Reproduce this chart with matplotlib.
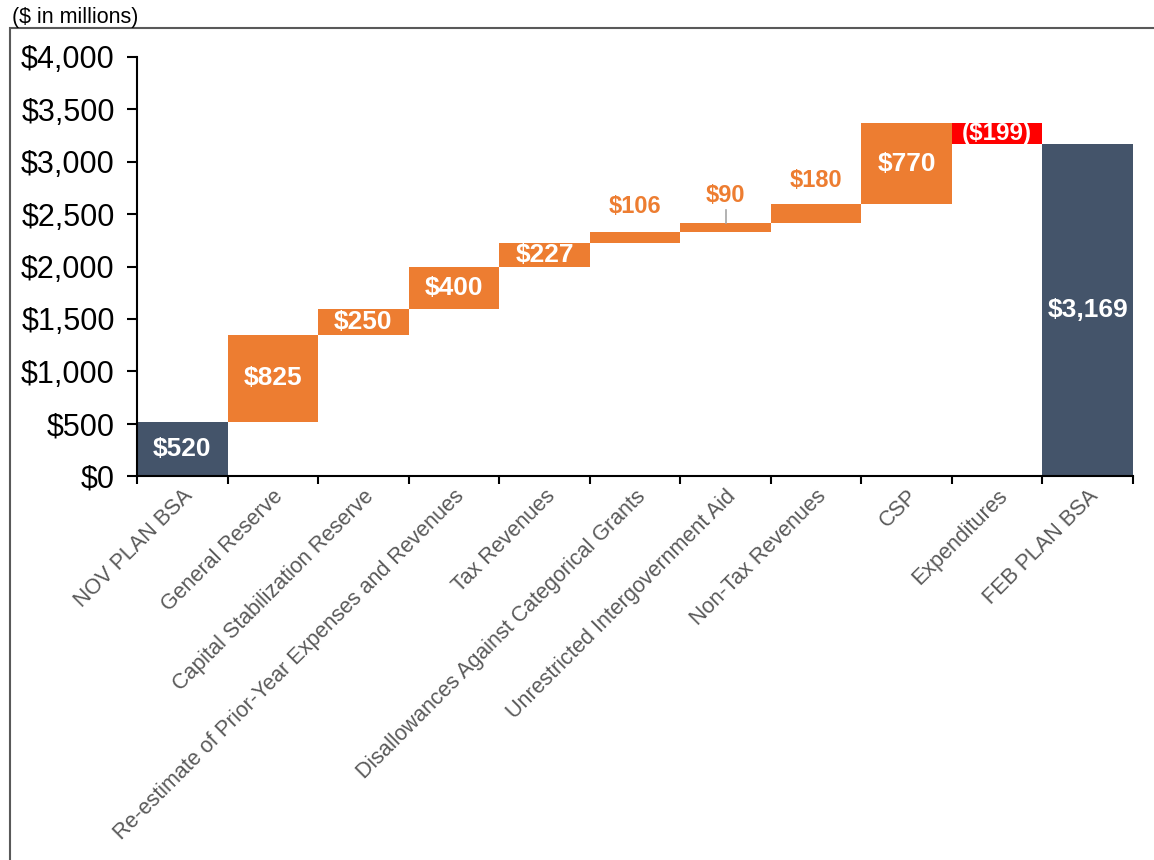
import matplotlib.pyplot as plt
import matplotlib.patches as mpatches

plt.rcParams['font.family'] = ['Liberation Sans', 'DejaVu Sans']

categories = ['NOV PLAN BSA', 'General Reserve', 'Capital Stabilization Reserve',
              'Re-estimate of Prior-Year Expenses and Revenues', 'Tax Revenues',
              'Disallowances Against Categorical Grants',
              'Unrestricted Intergovernment Aid', 'Non-Tax Revenues', 'CSP',
              'Expenditures', 'FEB PLAN BSA']
changes = [520, 825, 250, 400, 227, 106, 90, 180, 770, -199, 3169]
labels = ['$520', '$825', '$250', '$400', '$227', '$106', '$90', '$180',
          '$770', '($199)', '$3,169']
totals = [0, 10]  # indices of the total bars

DARK = '#44546A'
ORANGE = '#ED7D31'
RED = '#FF0000'

fig = plt.figure(figsize=(11.54, 8.6), dpi=100)
ax = fig.add_axes([137 / 1154, 1 - 476 / 860, (1133 - 137) / 1154, (476 - 57) / 860])

# frame around the chart area
fig.patches.append(mpatches.Rectangle((10 / 1154, -0.1), 1.2, 1 - 28 / 860 + 0.1,
                                      transform=fig.transFigure, fill=False,
                                      edgecolor='#595959', linewidth=1.5))
fig.text(12 / 1154, 1 - 17 / 860, '($ in millions)', fontsize=15.5, va='center', ha='left')

running = 0
bottoms, heights, colors = [], [], []
for i, v in enumerate(changes):
    if i in totals:
        bottoms.append(0)
        heights.append(v)
        colors.append(DARK)
        running = v
    else:
        if v >= 0:
            bottoms.append(running)
            colors.append(ORANGE)
        else:
            bottoms.append(running + v)
            colors.append(RED)
        heights.append(abs(v))
        running += v

x = list(range(len(categories)))
ax.bar(x, heights, bottom=bottoms, width=1.0, color=colors, linewidth=0)

outside = {5: 26, 6: 27, 7: 23}  # small steps get their label above the bar (pixels)
px = 4000 / (476 - 57)
for i in x:
    top = bottoms[i] + heights[i]
    if i in outside:
        y_lab = top + outside[i] * px
        ax.text(i, y_lab, labels[i], ha='center', va='center', color=ORANGE,
                fontsize=17, fontweight='bold')
        if i == 6:
            ax.plot([i, i], [top, top + 13 * px], color='#A6A6A6', linewidth=1.2)
    else:
        size = 17.5 if changes[i] < 0 else 19
        ax.text(i, bottoms[i] + heights[i] / 2, labels[i], ha='center', va='center',
                color='white', fontsize=size, fontweight='bold')

ax.set_xlim(-0.5, len(categories) - 0.5)
ax.set_ylim(0, 4000)
ax.set_yticks(range(0, 4001, 500))
ax.set_yticklabels(['${:,}'.format(t) for t in range(0, 4001, 500)], fontsize=22)
ax.tick_params(axis='y', direction='out', length=7, width=1.5, pad=9)

ax.set_xticks(x)
ax.set_xticklabels(categories, rotation=45, ha='right', rotation_mode='anchor',
                   fontsize=15.5, color='#595959')
ax.tick_params(axis='x', which='major', length=0, pad=7)
ax.set_xticks([i - 0.5 for i in range(len(categories) + 1)], minor=True)
ax.tick_params(axis='x', which='minor', direction='out', length=6, width=1.5)

for s in ['top', 'right']:
    ax.spines[s].set_visible(False)
for s in ['left', 'bottom']:
    ax.spines[s].set_linewidth(1.5)

fig.savefig('out.png', dpi=100)
